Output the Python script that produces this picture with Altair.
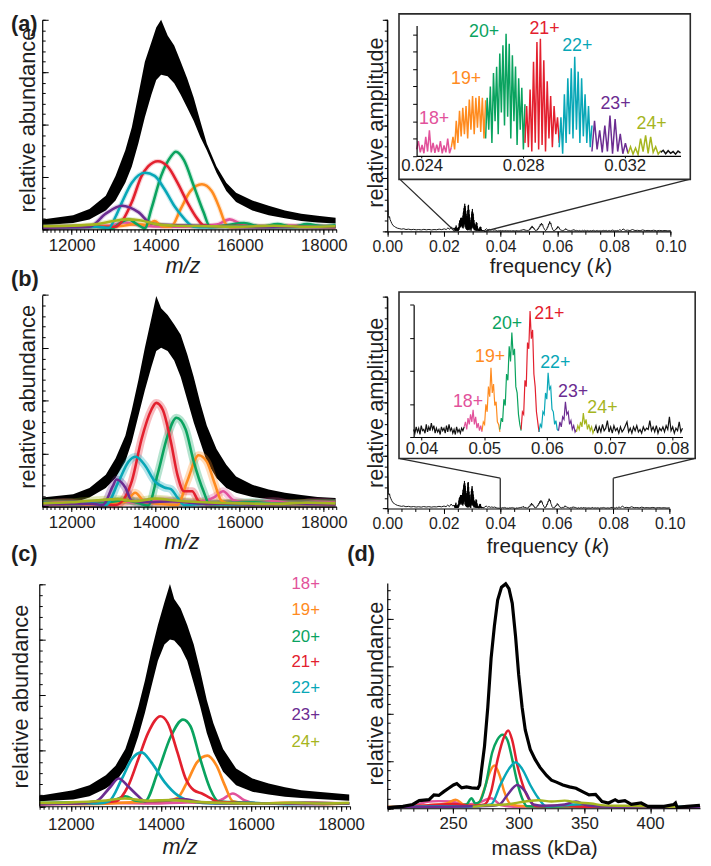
import numpy as np
import pandas as pd
import altair as alt

# ======================= DATA =======================
CHARGES = ["18+", "19+", "20+", "21+", "22+", "23+", "24+"]
COLORS = ["#e2529b", "#ff8b1f", "#0aa35f", "#e3202e", "#08a7b7", "#6b2c91", "#a6b51e"]

# --- m/z spectra: envelope of the noisy black trace (relative abundance units) ---
MZ_AB = [11300, 12036, 12424, 12812, 13044, 13277, 13432, 13587, 13742, 13897, 14013, 14129, 14284, 14440,
         14595, 14750, 14905, 15060, 15215, 15447, 15680, 15912, 16300, 16688, 17075, 17463, 17851, 18280]
A_HI = [0.19, 0.27, 0.39, 0.64, 1.02, 1.51, 1.95, 2.57, 3.20, 3.57, 3.85, 4.00, 3.70, 3.51,
        3.20, 2.88, 2.51, 2.07, 1.64, 1.20, 0.89, 0.70, 0.55, 0.45, 0.36, 0.30, 0.26, 0.22]
A_LO = [0.08, 0.12, 0.19, 0.36, 0.55, 0.89, 1.20, 1.64, 2.14, 2.57, 2.85, 2.95, 2.92, 2.79,
        2.57, 2.32, 2.07, 1.76, 1.51, 1.08, 0.73, 0.52, 0.36, 0.27, 0.21, 0.16, 0.13, 0.11]
B_HI = [0.17, 0.23, 0.35, 0.60, 0.91, 1.34, 1.83, 2.39, 3.00, 3.56, 3.98, 3.75, 3.62, 3.44,
        3.25, 2.88, 2.45, 1.96, 1.53, 1.09, 0.79, 0.57, 0.41, 0.32, 0.26, 0.22, 0.18, 0.16]
B_LO = [0.02, 0.07, 0.17, 0.35, 0.54, 0.85, 1.22, 1.71, 2.20, 2.64, 2.94, 3.00, 2.94, 2.76,
        2.45, 2.02, 1.59, 1.22, 0.85, 0.54, 0.35, 0.26, 0.18, 0.14, 0.11, 0.09, 0.07, 0.05]
MZ_C = [11300, 12053, 12414, 12776, 12993, 13210, 13354, 13499, 13644, 13788, 13933, 14078, 14201, 14295,
        14439, 14584, 14729, 14873, 15018, 15163, 15380, 15669, 16031, 16393, 16754, 17116, 17478, 18180]
C_HI = [0.19, 0.29, 0.38, 0.56, 0.73, 1.03, 1.38, 1.79, 2.26, 2.79, 3.26, 3.67, 4.00, 3.73,
        3.56, 3.26, 2.91, 2.44, 1.91, 1.50, 1.03, 0.68, 0.50, 0.41, 0.34, 0.29, 0.26, 0.21]
C_LO = [0.09, 0.12, 0.18, 0.32, 0.44, 0.68, 0.91, 1.26, 1.68, 2.15, 2.62, 2.91, 3.00, 2.98,
        2.85, 2.62, 2.21, 1.79, 1.32, 0.97, 0.62, 0.38, 0.26, 0.21, 0.17, 0.15, 0.13, 0.10]

# --- charge-state components (m/z, abundance) ---
A18 = [(11300, .05), (12200, .06), (12900, .07), (13250, .13), (13600, .08), (14300, .05), (15000, .06), (15450, .09), (15760, .19), (16050, .10), (16500, .06), (17200, .07), (18280, .05)]
A19 = [(11300, .04), (12500, .05), (13100, .06), (13548, .10), (13800, .08), (13975, .16), (14150, .06), (14362, .05), (14595, .39), (14827, .73), (15099, .86), (15331, .73), (15525, .39), (15641, .14), (15758, .04), (16200, .05), (17000, .04), (17800, .05), (18280, .04)]
A20 = [(11300, .05), (12000, .06), (12600, .05), (12950, .02), (13150, .12), (13355, .19), (13550, .10), (13742, .02), (13897, .39), (14129, 1.02), (14362, 1.39), (14479, 1.48), (14672, 1.32), (14905, .83), (15137, .33), (15292, .05), (15600, .07), (16100, .12), (16500, .05), (16900, .10), (17250, .05), (17600, .10), (18000, .06), (18280, .08)]
A21 = [(11300, .04), (12500, .05), (13044, .05), (13250, .22), (13432, .52), (13665, 1.02), (13820, 1.20), (14052, 1.30), (14284, 1.20), (14517, .89), (14750, .52), (14983, .21), (15137, .08), (15400, .06), (16000, .07), (16600, .05), (17200, .06), (18280, .05)]
A22 = [(11300, .05), (12000, .04), (12600, .05), (12889, .03), (13050, .25), (13199, .52), (13432, .89), (13742, 1.08), (13975, 1.02), (14207, .77), (14440, .45), (14672, .21), (14905, .05), (15200, .04), (15800, .06), (16400, .05), (17000, .04), (17600, .05), (18280, .06)]
A23 = [(11300, .03), (12000, .04), (12424, .05), (12812, .30), (13199, .45), (13587, .33), (13897, .11), (14362, .08), (15000, .07), (15700, .05), (16500, .04), (17300, .05), (18280, .04)]
A24 = [(11300, .06), (12000, .07), (12600, .10), (13000, .16), (13300, .19), (13650, .17), (14000, .10), (14500, .07), (15200, .06), (16000, .05), (16800, .07), (17600, .05), (18280, .06)]

B18 = [(11300, .05), (11800, .08), (12400, .04), (13000, .10), (13600, .07), (14100, .12), (14600, .08), (15100, .10), (15400, .18), (15602, .29), (15850, .12), (16300, .06), (16800, .10), (17300, .05), (17800, .09), (18280, .07)]
B19 = [(11300, .05), (12300, .04), (13000, .06), (13300, .10), (13510, .26), (13750, .08), (14100, .05), (14517, .03), (14750, .48), (15021, .97), (15215, .85), (15409, .42), (15564, .11), (15800, .05), (16500, .06), (17300, .04), (18280, .05)]
B20 = [(11300, .06), (12200, .05), (12800, .07), (13300, .12), (13600, .06), (13820, .02), (14052, .63), (14284, 1.34), (14494, 1.68), (14711, 1.46), (14905, .85), (15137, .29), (15292, .03), (15700, .06), (16300, .08), (17000, .05), (17700, .07), (18280, .06)]
B21 = [(11300, .05), (12400, .06), (13044, .03), (13250, .15), (13432, .48), (13665, 1.28), (13897, 1.83), (14013, 1.96), (14168, 1.83), (14362, 1.22), (14517, .60), (14672, .29), (14866, .29), (15021, .10), (15215, .04), (15800, .06), (16600, .05), (17400, .06), (18280, .05)]
B22 = [(11300, .07), (12000, .05), (12500, .06), (12812, .03), (13122, .48), (13354, .85), (13525, .94), (13742, .78), (13975, .48), (14207, .36), (14362, .33), (14517, .17), (14672, .03), (15100, .05), (15800, .04), (16500, .06), (17300, .05), (18280, .06)]
B23 = [(11300, .04), (12000, .05), (12500, .05), (12742, .03), (12975, .38), (13067, .51), (13277, .36), (13432, .11), (13800, .08), (14400, .10), (15000, .06), (15800, .05), (16600, .04), (17400, .05), (18280, .04)]
B24 = [(11300, .06), (12000, .08), (12600, .12), (13100, .14), (13500, .10), (14000, .15), (14400, .12), (14900, .09), (15400, .07), (16000, .06), (16800, .05), (17600, .07), (18280, .06)]

C18 = [(11300, .04), (12200, .05), (13000, .06), (13800, .05), (14600, .07), (15100, .06), (15350, .12), (15597, .23), (15850, .11), (16200, .05), (17000, .06), (17800, .05), (18180, .05)]
C19 = [(11300, .05), (12300, .04), (13100, .06), (13600, .08), (14100, .10), (14367, .15), (14584, .44), (14801, .79), (15032, .91), (15235, .73), (15416, .38), (15597, .09), (16000, .05), (16800, .06), (17600, .04), (18180, .05)]
C20 = [(11300, .06), (12200, .07), (12900, .09), (13210, .18), (13450, .10), (13644, .09), (13933, .62), (14222, 1.26), (14490, 1.56), (14656, 1.44), (14873, .85), (15090, .32), (15271, .09), (15700, .07), (16400, .05), (17200, .06), (18180, .05)]
C21 = [(11300, .04), (12300, .05), (12993, .09), (13282, .38), (13499, .85), (13716, 1.32), (13991, 1.62), (14150, 1.50), (14367, .97), (14548, .50), (14729, .29), (14910, .23), (15090, .15), (15271, .08), (15800, .06), (16600, .05), (17400, .06), (18180, .05)]
C22 = [(11300, .05), (12100, .06), (12600, .05), (12848, .09), (13137, .50), (13354, .85), (13572, .97), (13788, .79), (14078, .44), (14367, .20), (14656, .09), (15200, .05), (16000, .06), (16800, .04), (17600, .05), (18180, .05)]
C23 = [(11300, .04), (12000, .05), (12559, .09), (12848, .32), (13065, .50), (13282, .35), (13499, .18), (13644, .09), (14100, .10), (14511, .13), (14900, .07), (15600, .05), (16400, .05), (17200, .04), (18180, .05)]
C24 = [(11300, .06), (12000, .07), (12700, .10), (13200, .14), (13700, .10), (14200, .11), (14800, .08), (15400, .06), (16100, .05), (16900, .06), (17600, .05), (18180, .06)]

# --- (d) zero-charge mass distribution (kDa, abundance) ---
D_TOTAL = [(200.7, .01), (211.9, .04), (219.4, .08), (224.3, .16), (231.8, .18), (235.5, .28), (239.2, .27), (243.0, .35), (246.7, .42), (250.4, .49), (252.9, .52), (256.6, .43), (260.3, .45), (264.1, .43), (269.0, .42), (270.3, .49), (271.5, .76), (274.0, 1.31), (276.5, 2.13), (279.0, 3.16), (281.5, 3.84), (284.0, 4.39), (286.9, 4.66), (290.1, 4.73), (292.6, 4.63), (295.1, 4.32), (297.6, 3.63), (300.0, 2.81), (302.6, 2.13), (305.0, 1.65), (308.8, 1.24), (312.5, 1.03), (316.2, .86), (321.2, .69), (324.9, .59), (328.7, .55), (333.6, .49), (338.6, .45), (343.6, .42), (348.5, .35), (353.5, .28), (358.5, .29), (363.4, .14), (368.4, .11), (373.4, .18), (375.8, .14), (380.8, .16), (385.7, .08), (393.2, .11), (398.2, .04), (410.6, .04), (418.0, .08), (419.3, .11), (420.5, .02), (428.0, .04), (437.9, .06)]
D18 = [(200, .02), (220, .06), (232, .14), (239, .15), (249, .14), (258, .08), (268, .10), (279, .21), (287, .06), (300, .03), (330, .04), (370, .03), (438, .02)]
D19 = [(200, .03), (230, .06), (245, .10), (252, .18), (258, .08), (264, .05), (269, .08), (274, .42), (278, .76), (281.6, .90), (285.5, .69), (289, .35), (294, .08), (305, .04), (330, .03), (360, .04), (400, .03), (438, .02)]
D20 = [(200, .02), (225, .04), (245, .05), (255, .06), (260.3, .08), (264.1, .21), (267, .10), (270.3, .14), (274.9, .49), (279.9, 1.18), (283.7, 1.44), (287.7, 1.55), (291.4, 1.44), (295.1, 1.03), (298.9, .55), (302.6, .21), (306.3, .04), (320, .03), (340, .04), (360, .03), (380, .04), (400, .03), (420, .02), (438, .03)]
D21 = [(200, .02), (230, .06), (250, .09), (265, .05), (274, .08), (279, .35), (284, 1.03), (289, 1.51), (292, 1.64), (295, 1.44), (299, .90), (304, .42), (309, .14), (314, .04), (330, .05), (350, .03), (370, .04), (400, .03), (438, .02)]
D22 = [(200, .02), (240, .04), (260, .03), (279, .08), (286, .49), (292.6, .83), (297.6, .97), (302.6, .83), (308.8, .49), (315, .21), (321, .04), (335, .06), (348, .09), (360, .05), (380, .03), (400, .04), (438, .02)]
D23 = [(200, .02), (240, .03), (265, .04), (280, .05), (285.5, .08), (291.4, .28), (298.9, .49), (305, .35), (311, .08), (320, .05), (335, .08), (343.6, .14), (352, .06), (370, .03), (400, .02), (438, .02)]
D24 = [(265, .03), (275, .06), (290, .08), (305, .14), (315, .17), (325, .14), (335, .16), (345, .12), (355, .10), (365, .06), (380, .05), (400, .04), (420, .03)]

# --- frequency spectrum (k, amplitude) ---
LOW_F = [0.0000, 0.0002, 0.0004, 0.0006, 0.0008, 0.0010, 0.0013, 0.0016, 0.0020, 0.0025, 0.0030, 0.0036, 0.0042,
         0.0050, 0.0058, 0.0066, 0.0075, 0.0084, 0.0093, 0.0102, 0.0111, 0.0120, 0.0129, 0.0138, 0.0147, 0.0156,
         0.0165, 0.0174, 0.0183, 0.0192, 0.0201, 0.0208, 0.0214, 0.0220, 0.0226, 0.0232, 0.0236]
LOW_A = [216, 40, 16, 14, 15, 12, 10, 8, 6, 5, 4, 3.2, 2.8, 2.2, 2.6, 1.8, 2.2, 1.6, 2.0, 1.5, 1.8, 1.4, 2.0,
         1.5, 1.9, 1.4, 1.8, 1.6, 2.2, 1.7, 2.5, 1.8, 3.5, 2.0, 4.5, 2.5, 3.5]
# fundamental region (inset a), one amplitude list per charge-state segment
IA_EDGES = [0.0238, 0.02517, 0.02652, 0.02807, 0.02942, 0.03071, 0.03213, 0.03342, 0.0342]
IA_18 = [1.5, 3.4, 0.8, 2.5, 0.6, 4.4, 1.0, 5.9, 0.8, 3.0, 0.7, 2.6, 0.9, 3.4, 0.6, 2.4, 0.8, 4.0, 0.6, 2.0]
IA_19 = [2.0, 4.4, 1.5, 8.1, 3.0, 10.4, 4.5, 11.1, 5.0, 11.5, 4.0, 13.0, 6.0, 13.8, 5.0, 13.4, 6.5, 13.8, 5.5, 13.4, 4.0, 12.8]
IA_20 = [4.0, 13.4, 6.0, 16.0, 3.0, 19.1, 8.0, 20.5, 5.0, 23.6, 10.0, 25.5, 7.0, 28.1, 9.0, 25.8, 4.0, 23.2, 8.0, 20.6, 2.5, 17.9, 6.0, 15.7, 1.5, 11.9]
IA_21 = [3.0, 11.5, 2.0, 15.3, 1.0, 21.7, 3.0, 26.2, 1.5, 27.0, 2.5, 22.0, 1.0, 17.2, 4.0, 13.8, 2.0, 11.5, 5.0, 8.9, 3.0]
IA_22 = [2.0, 8.9, 0.5, 14.2, 3.0, 17.9, 5.0, 20.2, 4.0, 22.8, 6.0, 19.4, 3.0, 17.9, 4.5, 14.2, 3.0, 11.5, 2.0, 7.0]
IA_23 = [1.0, 8.1, 1.5, 5.9, 0.8, 7.0, 1.0, 9.3, 0.5, 8.5, 1.0, 5.1, 0.5, 2.9, 0.6]
IA_24 = [0.5, 2.1, 0.4, 1.8, 0.3, 4.0, 1.0, 4.7, 0.6, 4.4, 0.8, 2.1, 0.4, 1.2]
IA_TAIL = [0.8, 1.3, 0.5, 1.2, 0.6, 1.0, 0.4, 1.1, 0.7]
MID_F = [0.0345, 0.0350, 0.0355, 0.0360, 0.0365, 0.0370, 0.0375, 0.0380, 0.0385]
MID_A = [1.5, 2.6, 1.3, 2.0, 1.2, 1.6, 1.1, 1.5, 0.9]
# second-harmonic region (inset b)
IB_EDGES = [0.03875, 0.0468, 0.04965, 0.0525, 0.05588, 0.05873, 0.06184, 0.0647, 0.06755, 0.0816]
IB_HEAD = [0.6, 0.3, 0.8, 0.4, 0.7, 0.2, 0.9, 0.5, 0.6, 0.3, 1.0, 0.4, 0.8, 0.5, 1.1, 0.6, 0.9, 0.3, 0.7, 0.4, 0.6,
           0.2, 0.8, 0.5, 0.7, 0.3, 0.9, 0.4, 1.0, 0.5, 0.7, 0.3, 0.6, 0.2, 0.8, 0.4, 0.6, 0.3, 0.7, 0.5, 0.8]
IB_18 = [0.8, 1.2, 0.6, 1.5, 1.0, 1.8, 1.2, 2.15, 1.0, 1.6, 0.7, 1.1, 0.5, 0.9, 0.4]
IB_19 = [0.5, 1.2, 1.0, 2.6, 2.0, 4.0, 3.2, 5.5, 3.5, 4.2, 2.5, 2.8, 1.2, 1.0, 0.4]
IB_20 = [0.6, 1.5, 1.2, 3.0, 2.5, 5.0, 4.5, 7.2, 6.0, 8.3, 6.5, 7.0, 4.0, 3.5, 1.8, 1.0, 0.5]
IB_21 = [0.6, 2.0, 1.8, 4.5, 4.0, 7.5, 7.0, 10.0, 7.8, 8.5, 5.0, 4.0, 2.0, 1.2, 0.4]
IB_22 = [0.4, 1.0, 0.8, 2.0, 1.8, 3.5, 3.0, 5.1, 3.8, 4.0, 2.2, 2.0, 1.0, 1.3, 0.6, 0.5]
IB_23 = [0.5, 1.2, 0.8, 1.6, 1.4, 2.8, 1.8, 2.0, 1.0, 1.3, 0.6, 0.9, 0.4, 0.6]
IB_24 = [0.4, 0.9, 0.6, 1.2, 0.8, 1.9, 1.0, 1.4, 0.6, 1.0, 0.5, 0.8, 0.3, 0.6]
IB_TAIL = [0.5, 0.9, 0.3, 0.8, 0.4, 1.0, 0.5, 0.7, 1.3, 0.4, 0.8, 0.3, 0.9, 0.5, 0.7, 0.3, 0.8, 0.4, 0.6, 0.9,
           1.2, 0.4, 0.7, 0.3, 0.8, 0.5, 0.9, 0.4, 0.6, 0.3, 0.8, 0.5, 0.7, 0.6, 1.3, 0.5, 0.8, 0.4, 0.9, 0.3,
           0.7, 0.5, 0.8, 0.4, 0.9, 0.6, 1.6, 0.5, 0.8, 0.3, 0.7, 0.5, 1.2, 0.4, 0.7]
HIGH_F = [0.0820, 0.0826, 0.0832, 0.0840, 0.0848, 0.0856, 0.0865, 0.0874, 0.0883, 0.0892, 0.0901, 0.0910,
          0.0920, 0.0930, 0.0940, 0.0950, 0.0960, 0.0970, 0.0980, 0.0990, 0.1000]
HIGH_A = [1.6, 0.8, 2.4, 0.9, 1.2, 0.7, 1.8, 0.8, 1.0, 0.6, 1.4, 0.7, 0.9, 0.6, 1.1, 0.5, 0.9, 0.6, 0.8, 0.5, 0.7]

# label positions of the charge states
IA_LAB = [(0.02449, 8.5), (0.02575, 17.6), (0.02646, 28.5), (0.02884, 29.1), (0.03013, 25.3), (0.03164, 11.9), (0.03306, 7.4)]
IB_LAB = [(0.04742, 2.8), (0.05094, 6.33), (0.05365, 8.98), (0.06039, 9.75), (0.06132, 5.89), (0.06417, 3.57), (0.06884, 2.29)]
LEG_MZ = 16899
LEG_Y = [4.0, 3.53, 3.05, 2.59, 2.12, 1.64, 1.15]

# ======================= LAYOUT =======================
W, H = 703, 858
SX, SY = W / 711.0, H / 866.0


def cx(x):
    return round(x * SX, 2)


def cy(y):
    return round(y * SY, 2)


FONT = "Liberation Sans"
INK = "#1e1e1e"

# panel: x-domain, (x-left, x-right) page px, y-domain, (y-bottom, y-top) page px
GEOM = {
    "a": ([11300, 18300], (35, 336), [0, 4], (221, 7)),
    "b": ([11300, 18300], (35, 336), [0, 4], (504, 288)),
    "c": ([11300, 18200], (32, 350), [0, 4], (810, 583)),
    "ra": ([0, 0.1], (388, 678), [0, 216], (223, 7)),
    "ia": ([0.0238, 0.0342], (418, 688), [0, 30], (146, 13)),
    "rb": ([0, 0.1], (388, 677), [0, 216], (506, 290)),
    "ib": ([0.03875, 0.0816], (415, 690), [0, 10.5], (433, 298)),
    "d": ([200, 438], (388, 708), [0, 4.75], (812, 582)),
}


def xsc(p):
    xd, xr, _, _ = GEOM[p]
    return alt.Scale(domain=xd, range=[cx(xr[0]), cx(xr[1])], nice=False, zero=False)


def ysc(p):
    _, _, yd, yr = GEOM[p]
    return alt.Scale(domain=yd, range=[cy(yr[0]), cy(yr[1])], nice=False, zero=False)


def X(field, p):
    return alt.X(field, type="quantitative", scale=xsc(p), axis=None)


def Y(field, p):
    return alt.Y(field, type="quantitative", scale=ysc(p), axis=None)


CSCALE = alt.Scale(domain=CHARGES, range=COLORS)


def xaxis(p, values, labels=True, fmt=None, tick=5, pad=4, size=17, domain=True):
    xd, xr, yd, yr = GEOM[p]
    kw = dict(orient="bottom", offset=cy(yr[0]) - H, values=[float(v) for v in values], labels=labels,
              ticks=True, tickSize=tick, tickColor="black", tickWidth=1, domain=domain, grid=False,
              title=None, zindex=1)
    if domain:
        kw.update(domainColor="black", domainWidth=1.2)
    if labels:
        kw.update(labelFont=FONT, labelFontSize=size, labelColor=INK, labelPadding=pad,
                  labelFlush=False, labelOverlap=False, labelBound=False)
    if fmt:
        kw["format"] = fmt
    return alt.Chart(pd.DataFrame({"v": xd})).mark_point(opacity=0).encode(
        x=alt.X("v:Q", scale=xsc(p), axis=alt.Axis(**kw)))


def yaxis(p, values, orient, tick=5, domain=True):
    xd, xr, yd, yr = GEOM[p]
    off = cx(xr[0]) - W if orient == "right" else -cx(xr[0])
    kw = dict(orient=orient, offset=off, values=[float(v) for v in values], labels=False, ticks=True,
              tickSize=tick, tickColor="black", tickWidth=1, domain=domain, grid=False, title=None, zindex=1,
              minExtent=0)
    if domain:
        kw.update(domainColor="black", domainWidth=1.2)
    return alt.Chart(pd.DataFrame({"v": yd})).mark_point(opacity=0).encode(
        y=alt.Y("v:Q", scale=ysc(p), axis=alt.Axis(**kw)))


def text(s, x, y, size, angle=None, italic=False, bold=False, align="center", color=INK):
    kw = dict(font=FONT, fontSize=size, align=align, baseline="middle", color=color)
    if angle:
        kw["angle"] = angle
    if italic:
        kw["fontStyle"] = "italic"
    if bold:
        kw["fontWeight"] = "bold"
    return alt.Chart(pd.DataFrame({"t": [s]})).mark_text(**kw).encode(
        x=alt.value(cx(x)), y=alt.value(cy(y)), text="t:N")


def band(p, mz, hi, lo):
    df = pd.DataFrame({"x": mz, "hi": hi, "lo": lo})
    return alt.Chart(df).mark_area(color="black", interpolate="linear").encode(
        x=X("x", p), y=Y("hi", p), y2="lo")


def curves(p, series, width, halo=None):
    rows = []
    for ch, pts in zip(CHARGES, series):
        for x, y in pts:
            rows.append({"x": x, "y": y, "ch": ch})
    df = pd.DataFrame(rows)
    enc = dict(x=X("x", p), y=Y("y", p), color=alt.Color("ch:N", scale=CSCALE, legend=None))
    out = []
    if halo:
        out.append(alt.Chart(df).mark_line(interpolate="monotone", strokeWidth=halo[0], opacity=halo[1]).encode(**enc))
    out.append(alt.Chart(df).mark_line(interpolate="monotone", strokeWidth=width).encode(**enc))
    return out


def mz_axes(p, xmax, pad=4):
    return [
        xaxis(p, [12000, 14000, 16000, 18000], fmt="d", tick=5, pad=pad),
        xaxis(p, np.arange(11300, xmax + 1, 100), labels=False, tick=3, domain=False),
        yaxis(p, [0, 1, 2, 3, 4], "right", tick=6),
        yaxis(p, np.arange(0, 4.01, 0.2), "right", tick=3, domain=False),
    ]


# ---- assemble frequency data ----
IA_SEGS = [IA_18, IA_19, IA_20, IA_21, IA_22, IA_23, IA_24, IA_TAIL]
IA_KEYS = CHARGES + ["tail"]
IB_SEGS = [IB_HEAD, IB_18, IB_19, IB_20, IB_21, IB_22, IB_23, IB_24, IB_TAIL]
IB_KEYS = ["head"] + CHARGES + ["tail"]


def seg_frame(edges, segs, keys):
    rows = []
    for i, (k, amps) in enumerate(zip(keys, segs)):
        fs = np.linspace(edges[i], edges[i + 1], len(amps))
        for f, a in zip(fs, amps):
            rows.append({"f": float(f), "a": a, "seg": k})
    return pd.DataFrame(rows)


IA_DF = seg_frame(IA_EDGES, IA_SEGS, IA_KEYS)
IB_DF = seg_frame(IB_EDGES, IB_SEGS, IB_KEYS)
MAIN_DF = pd.concat([
    pd.DataFrame({"f": LOW_F, "a": LOW_A}),
    IA_DF[["f", "a"]],
    pd.DataFrame({"f": MID_F, "a": MID_A}),
    IB_DF[["f", "a"]],
    pd.DataFrame({"f": HIGH_F, "a": HIGH_A}),
], ignore_index=True)
MAIN_DF["o"] = np.arange(len(MAIN_DF))

SEG_DOM = ["head"] + CHARGES + ["tail"]
SEG_RNG = ["#111111"] + COLORS + ["#111111"]


def main_spec(p):
    return alt.Chart(MAIN_DF).mark_line(color="black", strokeWidth=0.9).encode(
        x=X("f", p), y=Y("a", p), order="o:Q")


def inset_lines(p, df, width):
    d = df.copy()
    d["o"] = np.arange(len(d))
    return alt.Chart(d).mark_line(strokeWidth=width).encode(
        x=X("f", p), y=Y("a", p), order="o:Q",
        color=alt.Color("seg:N", scale=alt.Scale(domain=SEG_DOM, range=SEG_RNG), legend=None))


def charge_labels(p, pos, size=18):
    df = pd.DataFrame({"f": [q[0] for q in pos], "a": [q[1] for q in pos], "ch": CHARGES})
    return alt.Chart(df).mark_text(font=FONT, fontSize=size, align="center", baseline="middle").encode(
        x=X("f", p), y=Y("a", p), text="ch:N", color=alt.Color("ch:N", scale=CSCALE, legend=None))


def box(x0, y0, x1, y1):
    return alt.Chart(pd.DataFrame({"k": [0]})).mark_rect(
        fill="white", stroke="#2a2a2a", strokeWidth=1.6).encode(
        x=alt.value(cx(x0)), x2=alt.value(cx(x1)), y=alt.value(cy(y0)), y2=alt.value(cy(y1)))


def rule_to_axis(p, f, x2=None, y2=None):
    enc = dict(x=X("f", p), y=Y("a", p))
    if x2 is not None:
        enc["x2"] = alt.value(cx(x2))
    if y2 is not None:
        enc["y2"] = alt.value(cy(y2))
    return alt.Chart(pd.DataFrame({"f": [f], "a": [0.0]})).mark_rule(color="#2a2a2a", strokeWidth=1.3).encode(**enc)


def rule_mixed(p, f, ypage, x2, y2):
    return alt.Chart(pd.DataFrame({"f": [f]})).mark_rule(color="#2a2a2a", strokeWidth=1.3).encode(
        x=X("f", p), y=alt.value(cy(ypage)), x2=alt.value(cx(x2)), y2=alt.value(cy(y2)))


def freq_axes(p):
    return [
        xaxis(p, [0, 0.02, 0.04, 0.06, 0.08, 0.10], fmt=".2f", tick=5, pad=2, size=16),
        xaxis(p, np.arange(0, 0.1001, 0.005), labels=False, tick=3, domain=False),
        yaxis(p, [0, 54, 108, 162, 216], "left", tick=5),
        yaxis(p, np.arange(0, 216.1, 10.8), "left", tick=3, domain=False),
    ]


layers = []

# ---------------- (a) left ----------------
layers += [band("a", MZ_AB, A_HI, A_LO)]
layers += curves("a", [A18, A19, A20, A21, A22, A23, A24], 2.6, halo=(5, 0.2))
layers += mz_axes("a", 18300, pad=3)

# ---------------- (b) left ----------------
layers += [band("b", MZ_AB, B_HI, B_LO)]
layers += curves("b", [B18, B19, B20, B21, B22, B23, B24], 2.6, halo=(8, 0.3))
layers += mz_axes("b", 18300, pad=3)

# ---------------- (c) left ----------------
layers += [band("c", MZ_C, C_HI, C_LO)]
layers += curves("c", [C18, C19, C20, C21, C22, C23, C24], 2.7)
layers += mz_axes("c", 18200, pad=6)
leg = pd.DataFrame({"x": [LEG_MZ] * 7, "y": LEG_Y, "ch": CHARGES})
layers.append(alt.Chart(leg).mark_text(font=FONT, fontSize=17, align="left", baseline="middle").encode(
    x=X("x", "c"), y=Y("y", "c"), text="ch:N", color=alt.Color("ch:N", scale=CSCALE, legend=None)))

# ---------------- (a) right ----------------
layers.append(main_spec("ra"))
layers += freq_axes("ra")
layers.append(rule_to_axis("ra", IA_EDGES[0], x2=401, y2=170))
layers.append(rule_to_axis("ra", IA_EDGES[-1], x2=697, y2=170))
layers.append(box(400, 1, 698, 170))
layers.append(inset_lines("ia", IA_DF, 1.5))
layers.append(charge_labels("ia", IA_LAB))
layers.append(xaxis("ia", [0.024, 0.028, 0.032], fmt=".3f", tick=2, pad=0, size=17))
layers.append(yaxis("ia", np.arange(0, 28.1, 4), "left", tick=4))

# ---------------- (b) right ----------------
layers.append(main_spec("rb"))
layers += freq_axes("rb")
layers.append(rule_to_axis("rb", 0.04, y2=475))
layers.append(rule_to_axis("rb", 0.08, y2=475))
layers.append(rule_mixed("rb", 0.04, 475, 401, 455))
layers.append(rule_mixed("rb", 0.08, 475, 702, 455))
layers.append(box(400, 285, 703, 455))
layers.append(inset_lines("ib", IB_DF, 1.2))
layers.append(charge_labels("ib", IB_LAB))
layers.append(xaxis("ib", [0.04, 0.05, 0.06, 0.07, 0.08], fmt=".2f", tick=3, pad=1, size=17))
layers.append(yaxis("ib", [0, 2.625, 5.25, 7.875, 10.5], "left", tick=4))

# ---------------- (d) ----------------
dtot = pd.DataFrame(D_TOTAL, columns=["x", "y"])
layers += curves("d", [D18, D19, D20, D21, D22, D23, D24], 2.5)
layers.append(alt.Chart(dtot).mark_line(color="black", strokeWidth=3.2, interpolate="linear").encode(
    x=X("x", "d"), y=Y("y", "d")))
layers += [
    xaxis("d", [250, 300, 350, 400], fmt="d", tick=5, pad=3),
    xaxis("d", np.arange(200, 431, 10), labels=False, tick=3, domain=False),
    yaxis("d", [0, 1, 2, 3, 4], "right", tick=6),
    yaxis("d", np.arange(0, 4.61, 0.2), "right", tick=3, domain=False),
]

# ---------------- titles & panel letters ----------------
layers += [
    text("relative abundance", 21, 110, 22, angle=270),
    text("relative abundance", 21, 392, 22, angle=270),
    text("relative abundance", 13, 698, 22, angle=270),
    text("relative abundance", 377, 695, 22, angle=270),
    text("relative amplitude", 377, 112, 22, angle=270),
    text("relative amplitude", 377, 398, 22, angle=270),
    text("m/z", 179, 258, 22, italic=True),
    text("m/z", 178, 540, 22, italic=True),
    text("m/z", 176, 852, 22, italic=True),
    text("mass (kDa)", 549, 854, 21),
    text("frequency (", 599, 260, 21, align="right"),
    text("k", 600.5, 260, 21, italic=True, align="left"),
    text(")", 611, 260, 21, align="left"),
    text("frequency (", 596, 545, 21, align="right"),
    text("k", 597.5, 545, 21, italic=True, align="left"),
    text(")", 608, 545, 21, align="left"),
    text("(a)", 3, 11, 22, bold=True, align="left"),
    text("(b)", 3, 272, 22, bold=True, align="left"),
    text("(c)", 3, 553, 22, bold=True, align="left"),
    text("(d)", 347, 553, 22, bold=True, align="left"),
]

chart = (
    alt.layer(*layers)
    .resolve_scale(x="independent", y="independent", color="independent")
    .resolve_axis(x="independent", y="independent")
    .resolve_legend(color="independent")
    .properties(width=W, height=H, padding=0, background="white",
                autosize=alt.AutoSizeParams(type="none"))
    .configure_view(strokeWidth=0)
)

chart.save("out.html", embed_options={"renderer": "svg", "actions": False})
